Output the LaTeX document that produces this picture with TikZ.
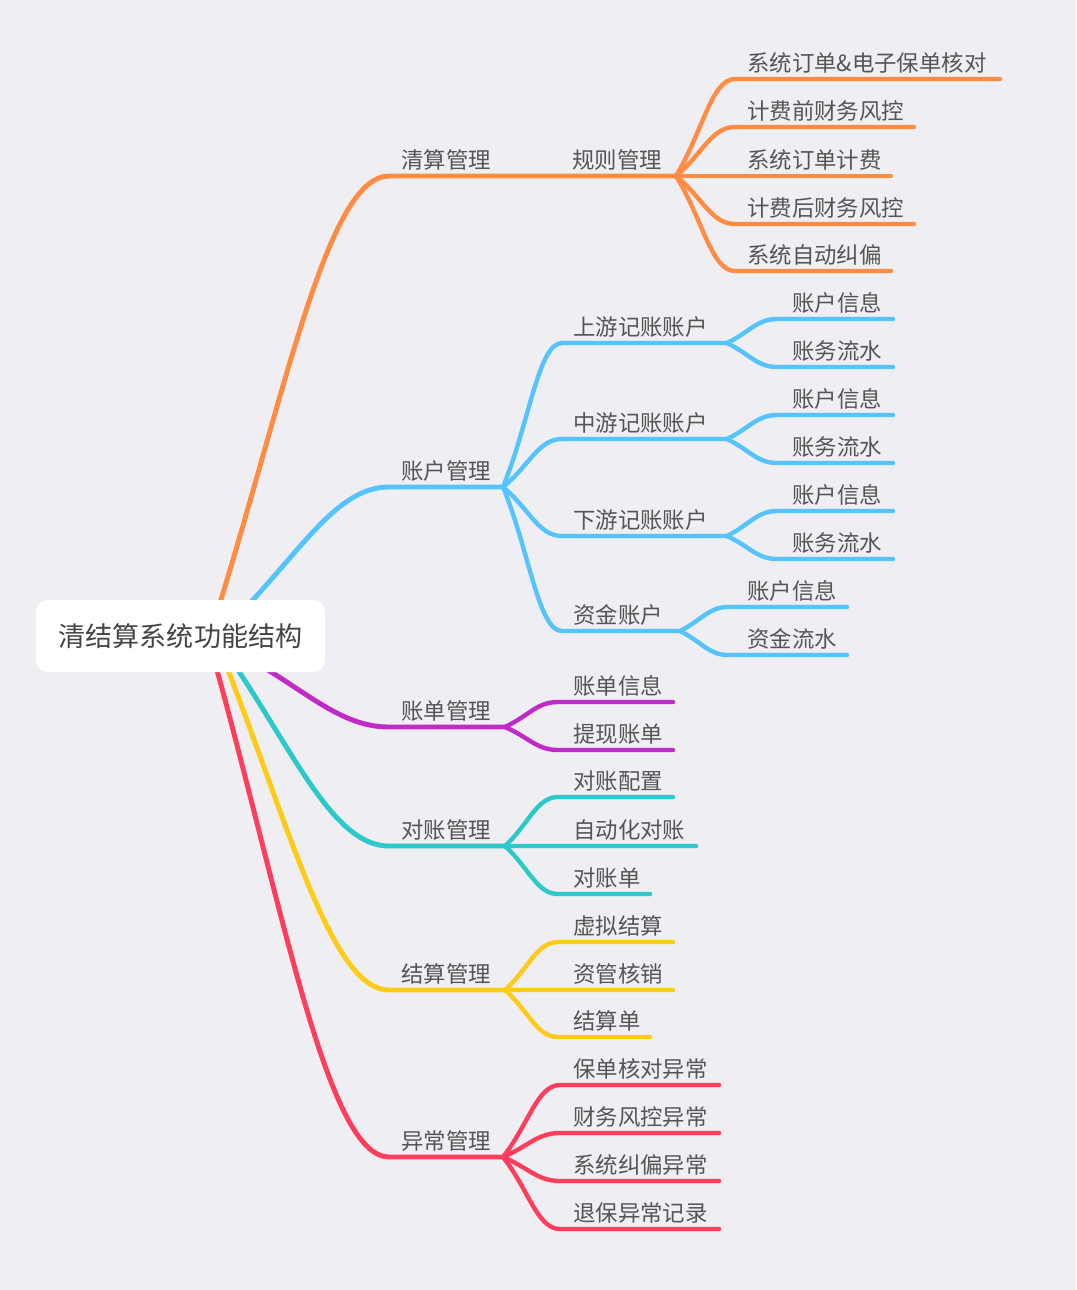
\documentclass[tikz,border=0pt]{standalone}
\usepackage{fontspec}
\newfontfamily\cjk{Noto Sans CJK SC}
\usetikzlibrary{calc}
\definecolor{bg}{HTML}{EEEEF3}
\definecolor{txt}{HTML}{555555}
\definecolor{rtxt}{HTML}{444444}
\definecolor{cOr}{HTML}{FF8C42}
\definecolor{cBl}{HTML}{56C4FC}
\definecolor{cPu}{HTML}{C02AC6}
\definecolor{cTe}{HTML}{2CC9CB}
\definecolor{cYe}{HTML}{FFCB17}
\definecolor{cRe}{HTML}{FF3E5C}
\begin{document}
\begin{tikzpicture}[x=0.75pt,y=-0.75pt,
  lbl/.style={font=\cjk\fontsize{16.8pt}{20pt}\selectfont, text=txt, anchor=base west, inner sep=0pt},
  mainline/.style={line width=3.7pt, line cap=round},
  subline/.style={line width=3.3pt, line cap=round},
  fan/.style={to path={.. controls ($(\tikztostart)!0.45!(\tikztotarget)$) and ($(\tikztotarget)!0.4!(\tikztotarget -| \tikztostart)$) .. (\tikztotarget)}},
]
\fill[bg] (0,0) rectangle (1076,1290);
\useasboundingbox (0,0) rectangle (1076,1290);

% root branch start points
\coordinate (r1) at (220,603);
\coordinate (r2) at (250,603);
\coordinate (r3) at (268,670);
\coordinate (r4) at (238,670);
\coordinate (r5) at (228,670);
\coordinate (r6) at (217,670);
% level-1 line starts and fan points
\coordinate (s1) at (389,176); \coordinate (c1) at (500,176); \coordinate (g1) at (676,176);
\coordinate (s2) at (389,487); \coordinate (f2) at (503,487);
\coordinate (s3) at (389,727); \coordinate (f3) at (505,727);
\coordinate (s4) at (389,846); \coordinate (f4) at (505,846);
\coordinate (s5) at (389,990); \coordinate (f5) at (505,990);
\coordinate (s6) at (389,1157); \coordinate (f6) at (503,1157);

% main branches
\draw[mainline,cOr] (r1) .. controls +(68,-222) and +(-60,0) .. (s1) -- (c1) -- (g1);
\draw[mainline,cBl] (r2) .. controls +(56,-60) and +(-49,0) .. (s2) -- (f2);
\draw[mainline,cPu] (r3) .. controls +(48,30) and +(-42,0) .. (s3) -- (f3);
\draw[mainline,cTe] (r4) .. controls +(60,91) and +(-53,0) .. (s4) -- (f4);
\draw[mainline,cYe] (r5) .. controls +(64,166) and +(-56,0) .. (s5) -- (f5);
\draw[mainline,cRe] (r6) .. controls +(69,253) and +(-60,0) .. (s6) -- (f6);

% level-1 labels
\node[lbl] (t1) at (401,168) {清算管理};
\node[lbl] (t1b) at (572,168) {规则管理};
\node[lbl] (t2) at (401,479) {账户管理};
\node[lbl] (t3) at (401,719) {账单管理};
\node[lbl] (t4) at (401,838) {对账管理};
\node[lbl] (t5) at (401,982) {结算管理};
\node[lbl] (t6) at (401,1149) {异常管理};

% 规则管理 leaves
\foreach \n/\y/\e/\t in {a/79/1000/系统订单\&电子保单核对, b/127/914/计费前财务风控, c/176/891/系统订单计费, d/224/914/计费后财务风控, e/271/891/系统自动纠偏}{
  \coordinate (gs\n) at (735,\y); \coordinate (ge\n) at (\e,\y);
  \draw[subline,cOr] (g1) to[fan] (gs\n) -- (ge\n);
  \node[lbl] (gt\n) at (747,\y-8) {\t};
}

% 账户管理 children
\foreach \n/\y/\e/\t in {a/343/727/上游记账账户, b/439/727/中游记账账户, c/536/727/下游记账账户, d/631/680/资金账户}{
  \coordinate (as\n) at (562,\y); \coordinate (ae\n) at (\e,\y);
  \draw[subline,cBl] (f2) to[fan] (as\n) -- (ae\n);
  \node[lbl] (at\n) at (573,\y-8) {\t};
}
\foreach \p/\ya/\yb in {a/319/367, b/415/463, c/511/559}{
  \coordinate (\p s1) at (777,\ya); \coordinate (\p e1) at (893,\ya);
  \coordinate (\p s2) at (777,\yb); \coordinate (\p e2) at (893,\yb);
  \draw[subline,cBl] (ae\p) to[fan] (\p s1) -- (\p e1);
  \draw[subline,cBl] (ae\p) to[fan] (\p s2) -- (\p e2);
  \node[lbl] (\p t1) at (792,\ya-8) {账户信息};
  \node[lbl] (\p t2) at (792,\yb-8) {账务流水};
}
\coordinate (ds1) at (728,607); \coordinate (de1) at (847,607);
\coordinate (ds2) at (728,655); \coordinate (de2) at (847,655);
\draw[subline,cBl] (aed) to[fan] (ds1) -- (de1);
\draw[subline,cBl] (aed) to[fan] (ds2) -- (de2);
\node[lbl] (dt1) at (747,599) {账户信息};
\node[lbl] (dt2) at (747,647) {资金流水};

% 账单管理 leaves
\foreach \n/\y/\e/\t in {a/702/673/账单信息, b/750/673/提现账单}{
  \coordinate (bs\n) at (558,\y); \coordinate (be\n) at (\e,\y);
  \draw[subline,cPu] (f3) to[fan] (bs\n) -- (be\n);
  \node[lbl] (bt\n) at (573,\y-8) {\t};
}
% 对账管理 leaves
\foreach \n/\y/\e/\t in {a/797/673/对账配置, b/846/696/自动化对账, c/894/650/对账单}{
  \coordinate (ks\n) at (558,\y); \coordinate (ke\n) at (\e,\y);
  \draw[subline,cTe] (f4) to[fan] (ks\n) -- (ke\n);
  \node[lbl] (kt\n) at (573,\y-8) {\t};
}
% 结算管理 leaves
\foreach \n/\y/\e/\t in {a/942/673/虚拟结算, b/990/673/资管核销, c/1037/650/结算单}{
  \coordinate (js\n) at (558,\y); \coordinate (je\n) at (\e,\y);
  \draw[subline,cYe] (f5) to[fan] (js\n) -- (je\n);
  \node[lbl] (jt\n) at (573,\y-8) {\t};
}
% 异常管理 leaves
\foreach \n/\y/\t in {a/1085/保单核对异常, b/1133/财务风控异常, c/1181/系统纠偏异常, d/1229/退保异常记录}{
  \coordinate (ys\n) at (560,\y); \coordinate (ye\n) at (719,\y);
  \draw[subline,cRe] (f6) to[fan] (ys\n) -- (ye\n);
  \node[lbl] (yt\n) at (573,\y-8) {\t};
}

% root
\node[fill=white, rounded corners=9pt, minimum width=216.75pt, minimum height=54pt, inner sep=0pt,
      font=\cjk\fontsize{20.3pt}{24pt}\selectfont, text=rtxt] (root) at (180.5,636) {清结算系统功能结构};
\end{tikzpicture}
\end{document}
